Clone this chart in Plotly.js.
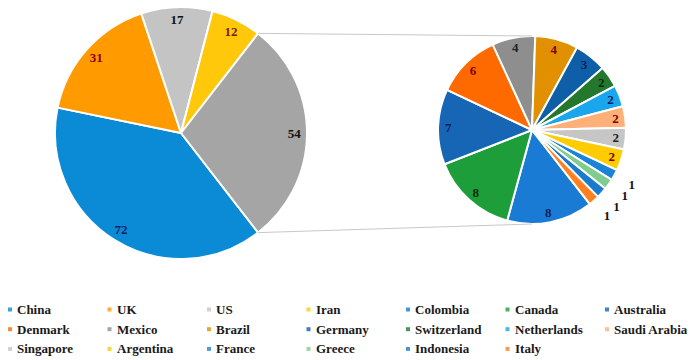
<!DOCTYPE html>
<html><head><meta charset="utf-8">
<script src="https://cdn.plot.ly/plotly-3.0.1.min.js"></script>
<style>html,body{margin:0;padding:0;background:#fff;}</style>
</head><body><div id="chart" style="width:691px;height:360px;"></div>
<script>
// ---- data ----
const mainLabels = ['China','UK','US','Iran','Others'];
const mainValues = [72, 31, 17, 12, 54];
const subLabels = ['Colombia','Canada','Australia','Denmark','Mexico','Brazil','Germany','Switzerland','Netherlands','Saudi Arabia','Singapore','Argentina','France','Greece','Indonesia','Italy'];
const subValues = [8, 8, 7, 6, 4, 4, 3, 2, 2, 2, 2, 2, 1, 1, 1, 1];
const legendLabels = ['China','UK','US','Iran'].concat(subLabels);

// ---- styles ----
const mainColors = ['#0B8BD6','#FF9A00','#C4C4C4','#FFC80A','#A5A5A5'];
const mainTextColors = ['#0b1f5a','#8b0000','#111111','#7a1a00','#111111'];
const subColors = ['#1A7BD5','#1E9E3A','#1765B5','#FF6A00','#8E8E8E','#E09000','#0F5EA8','#23782E','#19A6EC','#FFAF78','#C6C6C6','#FFCC00','#1C84D8','#80CC8E','#1B7ACC','#FF8020'];
const subTextColors = ['#0b1f5a','#0a2a0a','#0b1f5a','#7a0000','#222222','#7a0000','#0b1f5a','#0b2a0b','#0b1f5a','#7a0000','#222222','#7a0000','#111111','#111111','#111111','#111111'];
const mainColorMap = {}; mainLabels.forEach((l,i)=>mainColorMap[l]=mainColors[i]);
const subColorMap = {}; subLabels.forEach((l,i)=>subColorMap[l]=subColors[i]);

const W = 691, H = 360;
const L = {cx: 181, cy: 133, r: 126};
const R = {cx: 532, cy: 130, r: 94};
const ROut = {cx: R.cx, cy: R.cy, r: R.r*1.28};
function dom(g){
  return {x: [(g.cx - g.r)/W, (g.cx + g.r)/W], y: [1 - (g.cy + g.r)/H, 1 - (g.cy - g.r)/H]};
}
const total = mainValues.reduce((a,b)=>a+b,0);
const othersVal = mainValues[mainValues.length-1];
// Others slice centred at 3 o'clock; China starts right after it (clockwise)
const rotL = 90 + 180*othersVal/total;
const rotR = 142;
const smallLimit = 2;

const fontFam = 'Liberation Serif, Times New Roman, serif';
const clear = n => Array.from({length:n}, ()=> 'rgba(0,0,0,0)');
const traces = [
  {type:'pie', labels: mainLabels, values: mainValues, domain: dom(L), sort:false, direction:'clockwise', rotation: rotL,
   marker:{colors: mainColors, line:{color:'#ffffff', width:2}}, textinfo:'none', showlegend:false, hoverinfo:'label+value'},
  {type:'pie', labels: mainLabels, values: mainValues, domain: dom(L), sort:false, direction:'clockwise', rotation: rotL, hole:0.8,
   marker:{colors: clear(mainValues.length), line:{width:0}}, textinfo:'value', texttemplate:'<b>%{value}</b>',
   textposition:'inside', insidetextorientation:'horizontal',
   textfont:{family: fontFam, size:13, color: mainTextColors}, showlegend:false, hoverinfo:'skip'},
  {type:'pie', labels: subLabels, values: subValues, domain: dom(R), sort:false, direction:'clockwise', rotation: rotR,
   marker:{colors: subColors, line:{color:'#ffffff', width:2}}, textinfo:'none', showlegend:false, hoverinfo:'label+value'},
  {type:'pie', labels: subLabels, values: subValues, domain: dom(R), sort:false, direction:'clockwise', rotation: rotR, hole:0.78,
   marker:{colors: clear(subValues.length), line:{width:0}}, textinfo:'value',
   texttemplate: subValues.map(v => v < smallLimit ? '' : '<b>%{value}</b>'),
   textposition:'inside', insidetextorientation:'horizontal',
   textfont:{family: fontFam, size:13, color: subTextColors}, showlegend:false, hoverinfo:'skip'},
  {type:'pie', labels: subLabels, values: subValues, domain: dom(ROut), sort:false, direction:'clockwise', rotation: rotR, hole:0.8,
   marker:{colors: clear(subValues.length), line:{width:0}}, textinfo:'value',
   texttemplate: subValues.map(v => v < smallLimit ? '<b>%{value}</b>' : ''),
   textposition:'inside', insidetextorientation:'horizontal',
   textfont:{family: fontFam, size:13, color: subTextColors}, showlegend:false, hoverinfo:'skip'}
];

// connector lines from the Others slice edges to top/bottom of the second pie
const before = total - othersVal;
const aStart = (rotL + 360*before/total) * Math.PI/180;
const aEnd = (rotL + 360) * Math.PI/180;
function pt(g, a){ return [g.cx + g.r*Math.sin(a), g.cy - g.r*Math.cos(a)]; }
const p1 = pt(L, aStart), p2 = pt(L, aEnd);
const shapes = [
  {type:'line', xref:'paper', yref:'paper', x0:p1[0]/W, y0:1-p1[1]/H, x1:R.cx/W, y1:1-(R.cy-R.r)/H, line:{color:'#C8C8C8', width:1}},
  {type:'line', xref:'paper', yref:'paper', x0:p2[0]/W, y0:1-p2[1]/H, x1:R.cx/W, y1:1-(R.cy+R.r)/H, line:{color:'#C8C8C8', width:1}}
];
const annotations = [];
// legend
const colX0 = 10, colDX = 99.5, rowY0 = 309.5, rowDY = 19.7, perRow = 7;
legendLabels.forEach((lab, i) => {
  const cx = colX0 + (i % perRow)*colDX;
  const cy = rowY0 + Math.floor(i / perRow)*rowDY;
  const col = mainColorMap[lab] || subColorMap[lab];
  shapes.push({type:'rect', xref:'paper', yref:'paper', x0:(cx-2)/W, x1:(cx+2)/W, y0:1-(cy+2)/H, y1:1-(cy-2)/H,
    fillcolor: col, opacity:0.8, line:{width:0}});
  annotations.push({xref:'paper', yref:'paper', x:(cx+5)/W, y:1-cy/H, xanchor:'left', yanchor:'middle',
    text:'<b>'+lab+'</b>', showarrow:false, font:{family: fontFam, size:13, color:'#1a1a1a'}});
});

const layout = {width: W, height: H, margin:{l:0,r:0,t:0,b:0}, paper_bgcolor:'#ffffff', plot_bgcolor:'#ffffff',
  showlegend:false, shapes: shapes, annotations: annotations, uniformtext:{mode:'show', minsize:13}};
Plotly.newPlot('chart', traces, layout, {displayModeBar:false, staticPlot:true});
</script></body></html>
